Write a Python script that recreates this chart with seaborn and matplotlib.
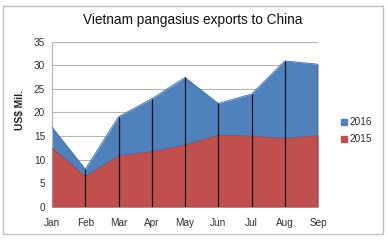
import matplotlib
matplotlib.use("Agg")
import matplotlib.pyplot as plt
import seaborn as sns
import pandas as pd
from matplotlib.patches import Rectangle, Patch

months = ["Jan", "Feb", "Mar", "Apr", "May", "Jun", "Jul", "Aug", "Sep"]
exports_2016 = [16.9, 8.0, 19.1, 22.9, 27.4, 21.9, 23.9, 30.9, 30.2]
exports_2015 = [12.5, 6.4, 10.8, 11.7, 13.1, 15.2, 15.0, 14.5, 15.1]
yticks = [0, 5, 10, 15, 20, 25, 30, 35]

blue = "#4F81BD"
red = "#C0504D"

sns.set_theme(style="white")
plt.rcParams["font.family"] = ["Liberation Sans", "DejaVu Sans"]

fig = plt.figure(figsize=(3.88, 2.40), dpi=100)
ax = fig.add_axes([52/388, 33/240, (318-52)/388, (207-41.5)/240])

df = pd.DataFrame({"x": range(len(months)), "m": months,
                   "y2016": exports_2016, "y2015": exports_2015})

ax.fill_between(df["x"], 0, df["y2016"], color=blue, zorder=2, lw=0)
ax.fill_between(df["x"], 0, df["y2015"], color=red, zorder=3, lw=0)
sns.lineplot(data=df, x="x", y="y2016", ax=ax, color="#3f6fa8", lw=0.6, zorder=4)
sns.lineplot(data=df, x="x", y="y2015", ax=ax, color="#a84440", lw=0.6, zorder=4)
ax.vlines(df["x"][1:], 0, df["y2016"][1:], color="#101018", lw=0.9, zorder=5)

ax.set_xlim(0, len(months) - 1)
ax.set_ylim(0, 35)
ax.set_yticks(yticks)
ax.set_xticks(range(len(months)))
ax.set_xticklabels(months)
ax.yaxis.grid(True, color="#b5b5b5", lw=0.8, zorder=0)
ax.set_axisbelow(True)
ax.tick_params(axis="both", labelsize=7.2, colors="#303030", length=0, pad=5)
ax.tick_params(axis="x", pad=8)
for s in ["top", "right", "bottom"]:
    ax.spines[s].set_visible(False)
ax.spines["left"].set_color("#b5b5b5")
ax.spines["left"].set_linewidth(0.8)
ax.set_xlabel("")
ax.set_ylabel("")

fig.text(20/388, 1 - 110/240, "US$ Mil.", rotation=90, fontsize=7.4,
         fontweight="bold", color="#202020", ha="center", va="center")
fig.text(193/388, 1 - 20/240, "Vietnam pangasius exports to China",
         fontsize=9.8, color="#101010", ha="center", va="center")

handles = [Patch(color=blue, label="2016"), Patch(color=red, label="2015")]
fig.legend(handles=handles, loc="center left",
           bbox_to_anchor=(336/388, 1 - 131/240), frameon=False,
           fontsize=7.2, handlelength=0.6, handleheight=0.6,
           handletextpad=0.2, labelspacing=0.7, borderpad=0,
           labelcolor="#303030")

fig.patches.append(Rectangle((3/388, 1 - 234/240), 380/388, 228/240,
                             transform=fig.transFigure, fill=False,
                             edgecolor="#c0c0c0", lw=1.0))

fig.savefig("out.png", dpi=100)
